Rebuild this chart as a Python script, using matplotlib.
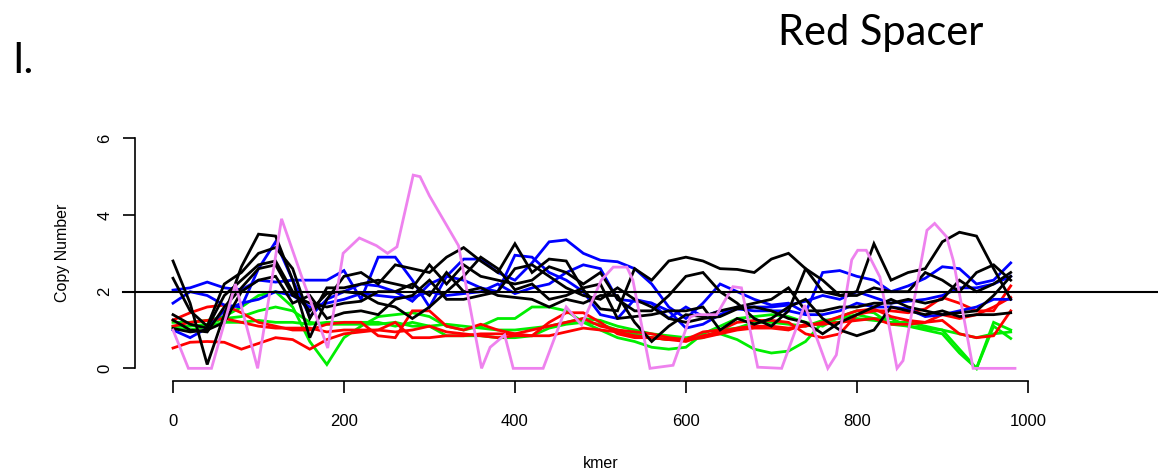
import numpy as np
import matplotlib
matplotlib.use("Agg")
import matplotlib.pyplot as plt

# ---------------- data ----------------
kmer = list(range(0, 1000, 20))  # 0 .. 980

black_1 = [2.8,1.7,0.1,1.4,2.65,3.5,3.45,2.3,0.8,1.8,2.4,2.5,2.2,2.7,2.6,2.5,2.9,3.15,2.8,2.5,
           3.25,2.5,2.85,2.8,2.05,1.55,1.5,2.6,2.3,2.8,2.9,2.8,2.6,2.58,2.5,2.85,3.0,2.6,2.0,1.9,
           2.0,3.25,2.3,2.5,2.6,3.3,3.55,3.45,2.6,1.8]
black_2 = [2.35,1.5,1.1,2.2,2.5,3.0,3.15,2.6,1.3,2.1,2.1,2.2,2.3,2.2,2.1,2.7,2.2,2.7,2.4,2.3,
           2.2,2.3,2.65,2.5,2.2,2.5,1.8,1.5,1.5,1.9,2.4,2.5,2.0,1.7,1.3,1.1,1.5,2.6,2.3,1.9,
           1.9,2.1,2.0,2.0,2.5,2.3,2.0,2.5,2.7,2.3]
black_3 = [1.4,1.15,1.05,1.9,2.3,2.7,2.8,2.0,1.5,1.95,2.0,1.95,1.7,1.6,1.3,1.6,2.0,2.4,2.9,2.6,
           2.05,2.2,1.8,1.9,2.1,2.2,1.3,1.35,1.4,1.5,1.5,1.6,1.0,1.3,1.15,1.3,1.6,1.8,1.3,1.0,
           0.85,1.0,1.6,1.5,1.4,1.5,1.35,1.4,1.4,1.45]
black_4 = [1.26,1.0,0.95,1.6,2.1,2.6,2.7,1.9,1.7,1.6,1.7,1.75,2.0,2.0,2.2,1.9,2.5,2.0,2.1,1.9,
           1.85,1.8,1.6,1.8,1.7,1.9,1.9,1.2,0.7,1.1,1.4,1.35,1.5,1.6,1.7,1.8,2.1,1.5,1.5,1.6,
           1.6,1.7,1.7,1.8,1.7,1.8,2.3,2.0,2.2,2.5]
black_5 = [1.04,0.95,1.0,1.2,2.0,2.3,2.4,1.7,1.9,1.3,1.45,1.5,1.4,1.8,1.9,2.3,1.8,1.8,1.9,2.0,
           2.6,2.7,2.4,2.1,1.9,1.8,2.1,1.8,1.6,1.3,1.2,1.3,1.35,1.55,1.6,1.5,1.3,1.2,0.9,1.2,
           1.4,1.6,1.8,1.6,1.5,1.4,1.45,1.5,1.9,2.4]

blue_1 = [2.04,2.1,2.25,2.1,2.05,2.3,2.25,2.3,2.3,2.3,2.55,1.8,2.9,2.9,2.3,1.6,2.4,2.85,2.85,2.5,
          2.3,2.75,3.3,3.35,3.0,2.82,2.78,2.6,2.2,1.6,1.3,1.7,2.2,2.0,1.8,1.65,1.7,1.45,2.5,2.55,
          2.4,2.3,2.0,2.15,2.35,2.65,2.6,2.2,2.3,2.75]
blue_2 = [1.7,2.0,1.9,1.65,1.6,2.6,3.3,2.3,1.35,1.8,2.0,2.2,2.15,2.0,1.75,2.2,2.4,2.3,2.1,2.0,
          2.95,2.9,2.5,2.3,2.0,1.4,1.3,1.8,1.7,1.5,1.05,1.15,1.4,1.6,1.6,1.6,1.65,1.75,1.9,1.8,
          2.0,1.85,1.7,1.75,1.8,1.9,2.1,2.1,2.2,2.4]
blue_3 = [1.0,0.8,1.05,1.5,1.7,1.8,2.0,1.9,1.6,1.7,1.8,1.95,1.9,1.85,1.85,2.0,1.9,1.95,2.0,2.2,
          1.95,2.1,2.2,2.5,2.7,2.6,1.8,1.75,1.7,1.3,1.6,1.35,1.5,1.55,1.5,1.5,1.5,1.4,1.4,1.5,
          1.7,1.6,1.6,1.55,1.35,1.4,1.5,1.6,1.8,1.8]

green_1 = [1.2,1.2,1.25,1.35,1.6,1.9,2.0,1.6,0.7,0.1,0.8,1.1,1.35,1.4,1.45,1.35,1.1,1.0,1.1,1.3,
           1.3,1.6,1.6,1.5,1.2,1.0,0.8,0.7,0.55,0.5,0.55,0.9,1.1,1.3,1.35,1.4,1.35,1.2,1.1,1.35,
           1.5,1.45,1.15,1.1,1.0,0.9,0.4,0.0,1.2,1.0]
green_2 = [1.1,1.1,1.15,1.3,1.35,1.5,1.6,1.5,1.2,1.15,1.15,1.15,1.15,1.2,1.1,1.1,0.85,0.85,0.85,0.8,
           0.8,0.85,1.05,1.15,1.2,1.15,1.0,0.9,0.8,0.75,0.75,0.8,1.0,1.05,1.2,1.2,1.15,1.1,1.25,1.3,
           1.4,1.3,1.3,1.1,1.05,1.0,0.5,0.0,1.1,0.78]
green_3 = [1.05,1.0,1.1,1.2,1.2,1.25,1.2,1.2,1.15,1.2,1.2,1.2,1.2,1.1,1.2,1.1,1.15,1.1,1.05,1.0,
           1.0,1.05,1.1,1.2,1.3,1.25,1.1,1.0,0.9,0.85,0.8,0.85,0.9,0.75,0.5,0.4,0.45,0.7,1.2,1.2,
           1.3,1.25,1.2,1.2,1.1,1.0,0.9,0.8,0.9,0.95]

red_1 = [1.26,1.45,1.6,1.65,1.45,1.2,1.1,1.0,1.0,1.15,1.2,1.2,0.85,0.8,1.5,1.5,1.1,1.0,1.15,1.0,
         0.9,0.85,1.2,1.45,1.45,1.2,0.9,0.8,0.8,0.75,0.75,0.95,1.0,1.2,1.25,1.25,1.2,0.9,0.8,0.9,
         1.4,1.5,1.5,1.45,1.55,1.85,1.7,1.5,1.5,2.15]
red_2 = [1.1,1.2,1.25,1.3,1.2,1.1,1.05,1.05,1.05,0.95,1.0,1.0,1.0,0.95,1.0,1.1,0.95,0.9,0.85,0.8,
         0.85,0.85,0.85,0.95,1.05,1.0,0.95,0.85,0.8,0.75,0.7,0.85,0.95,1.05,1.1,1.1,1.05,1.1,1.2,1.35,
         1.5,1.55,1.35,1.25,1.2,1.4,1.3,1.4,1.6,1.85]
red_3 = [0.53,0.68,0.7,0.68,0.5,0.65,0.8,0.75,0.5,0.75,0.9,0.95,1.0,1.2,0.8,0.8,0.85,0.85,0.9,0.9,
         0.9,1.0,1.1,1.2,1.3,1.1,1.0,0.95,0.9,0.8,0.75,0.8,0.9,1.0,1.05,1.05,1.0,1.15,1.15,1.2,
         1.25,1.3,1.15,1.15,1.2,1.25,0.9,0.8,0.85,1.5]

pink_kmer = [0,18,45,73,99,127,152,181,199,218,238,251,262,281,289,300,334,361,371,388,398,433,
             460,478,501,515,531,538,558,585,605,613,636,655,665,684,712,739,766,776,794,801,811,
             827,847,854,882,891,905,913,936,985]
pink_cn = [1.0,0.0,0.0,2.2,0.0,3.9,2.3,0.53,3.0,3.4,3.2,3.0,3.17,5.04,5.0,4.5,3.2,0.0,0.55,0.87,0.0,0.0,
           1.6,1.13,2.3,2.64,2.64,2.3,0.0,0.08,1.34,1.4,1.4,2.13,2.1,0.03,0.0,1.65,0.0,0.35,2.83,3.08,3.08,
           2.38,0.0,0.2,3.6,3.78,3.43,2.8,0.0,0.0]

x_ticks = [0, 200, 400, 600, 800, 1000]
y_ticks = [0, 2, 4, 6]
reference_level = 2

# ---------------- figure ----------------
W, H = 1158, 475
fig = plt.figure(figsize=(W / 100, H / 100), dpi=100)
left, right, bottom_px, top_px = 135.4, 1062.0, 381.0, 126.8
ax = fig.add_axes([left / W, (H - bottom_px) / H, (right - left) / W, (bottom_px - top_px) / H])
ax.set_xlim(-44, 1040)
ax.set_ylim(-0.33, 6.3)

lw = 2.0
for s in (green_1, green_2, green_3):
    ax.plot(kmer, s, color="#00ee00", lw=lw, solid_joinstyle="miter")
for s in (red_1, red_2, red_3):
    ax.plot(kmer, s, color="#ff0000", lw=lw, solid_joinstyle="miter")
for s in (blue_1, blue_2, blue_3):
    ax.plot(kmer, s, color="#0000ff", lw=lw, solid_joinstyle="miter")
for s in (black_1, black_2, black_3, black_4, black_5):
    ax.plot(kmer, s, color="black", lw=lw, solid_joinstyle="miter")
ax.plot(pink_kmer, pink_cn, color="#ee82ee", lw=lw, solid_joinstyle="miter")

ax.axhline(reference_level, xmin=-0.0134, xmax=1.11, color="black", lw=1.5, clip_on=False)

for sp in ("top", "right"):
    ax.spines[sp].set_visible(False)
ax.spines["left"].set_bounds(0, 6)
ax.spines["bottom"].set_bounds(0, 1000)
for sp in ("left", "bottom"):
    ax.spines[sp].set_linewidth(1.2)

font = "Liberation Sans"
ax.set_xticks(x_ticks)
ax.set_yticks(y_ticks)
ax.set_xticklabels([str(v) for v in x_ticks], fontsize=12, family=font)
ax.set_yticklabels([str(v) for v in y_ticks], fontsize=12, family=font, rotation=90, va="center")
ax.tick_params(axis="both", direction="out", length=8.6, width=1.2)
ax.tick_params(axis="x", pad=15)
ax.tick_params(axis="y", pad=8)

fig.text(601 / W, 1 - 463 / H, "kmer", ha="center", va="center", fontsize=11.5, family=font)
fig.text(62 / W, 1 - 253 / H, "Copy Number", ha="center", va="center", rotation=90,
         fontsize=11.5, family=font)

fig.text(778 / W, 1 - 45 / H, "Red Spacer", ha="left", va="baseline", fontsize=30, family="Lato")
fig.text(12 / W, 1 - 73 / H, "I.", ha="left", va="baseline", fontsize=30, family="Lato")

fig.savefig("out.png", dpi=100)
